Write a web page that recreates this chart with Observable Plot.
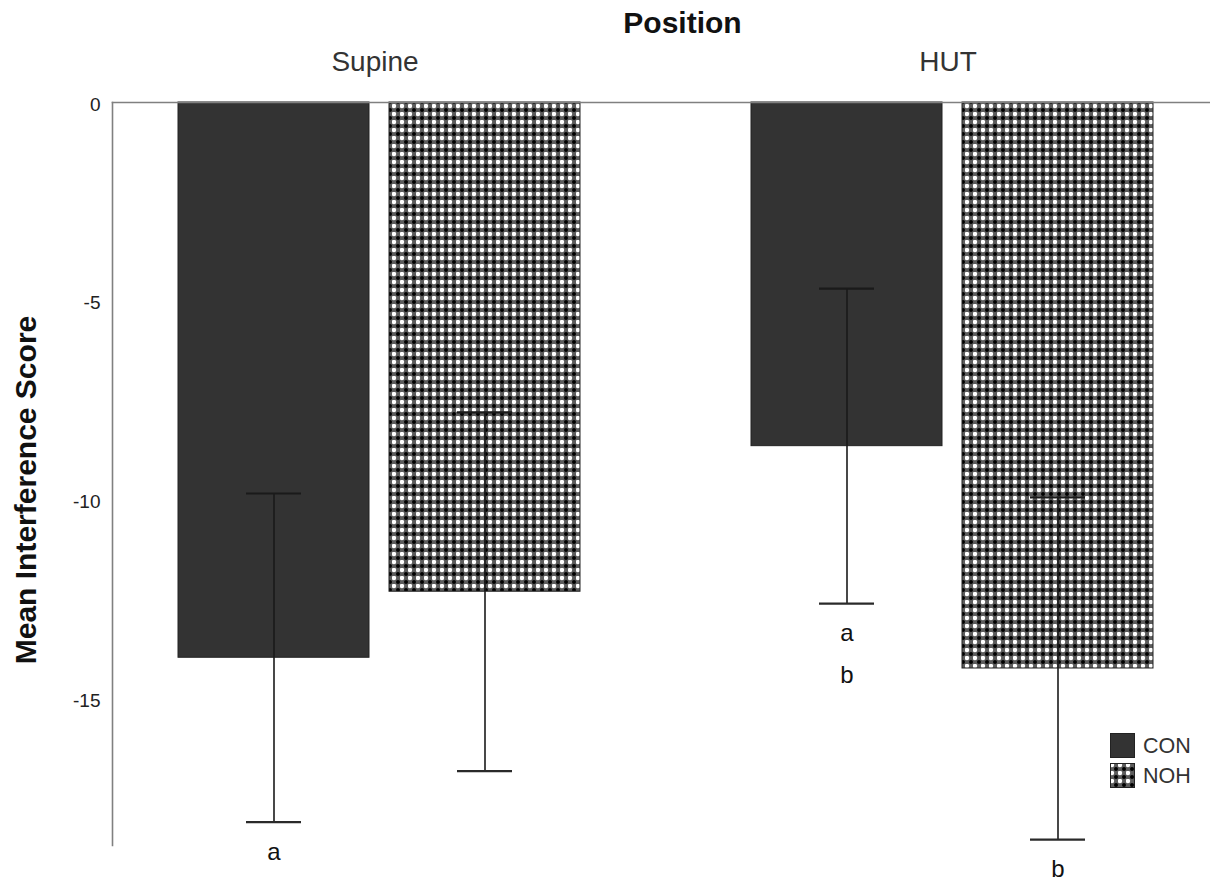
<!DOCTYPE html>
<html>
<head>
<meta charset="utf-8">
<script src="https://cdn.jsdelivr.net/npm/d3@7"></script>
<script src="https://cdn.jsdelivr.net/npm/@observablehq/plot@0.6"></script>
<style>
  html, body { margin: 0; padding: 0; background: #fff; }
  #wrap { position: relative; width: 1210px; height: 879px; font-family: "Liberation Sans", Arial, sans-serif; }
  #legend { position: absolute; left: 1110px; top: 731px; font-size: 21.5px; color: #333; }
  #legend .row { display: flex; align-items: center; height: 30px; }
  #legend svg { margin-right: 7px; }
</style>
</head>
<body>
<div id="wrap"></div>
<script>
// ---- data ----
const positions = ["Supine", "HUT"];
const groups = ["CON", "NOH"];
const meanCON = [-13.96, -8.64];
const meanNOH = [-12.30, -14.23];
const errCON = [4.13, 3.96];
const errNOH = [4.51, 4.30];
const yTicks = [0, -5, -10, -15];
const letterPositions = ["Supine", "HUT", "HUT"];
const letterGroups = ["CON", "CON", "NOH"];
const letterTexts = ["a", "a\nb", "b"];
const titleText = "Position";
const yLabel = "Mean Interference Score";

const data = positions.flatMap((p, i) => groups.map(g => ({
  position: p,
  group: g,
  mean: g === "CON" ? meanCON[i] : meanNOH[i],
  err: g === "CON" ? errCON[i] : errNOH[i]
})));
const letters = letterTexts.map((t, i) => {
  const d = data.find(r => r.position === letterPositions[i] && r.group === letterGroups[i]);
  return {position: letterPositions[i], group: letterGroups[i], text: t, lo: d.mean - d.err};
});

const svg = Plot.plot({
  width: 1210,
  height: 879,
  marginLeft: 112,
  marginRight: 0,
  marginTop: 102,
  marginBottom: 34,
  style: {fontFamily: "'Liberation Sans', Arial, sans-serif", color: "#222", background: "white", overflow: "visible"},
  fx: {domain: positions, paddingInner: 0.0838, paddingOuter: 0, label: null},
  x: {domain: groups, paddingInner: 0.0943, paddingOuter: 0.2854, align: 0.537, axis: null},
  y: {domain: [-18.68, 0]},
  color: {domain: groups, range: ["#333333", "url(#nohPattern)"]},
  marks: [
    Plot.barY(data, {fx: "position", x: "group", y: "mean", fill: "group", stroke: "#222", strokeWidth: 1}),
    Plot.ruleX(data, {fx: "position", x: "group", y1: d => d.mean - d.err, y2: d => d.mean + d.err, stroke: "#1a1a1a", strokeWidth: 1.6}),
    Plot.tickY(data, {fx: "position", x: "group", y: d => d.mean - d.err, insetLeft: 68, insetRight: 68, stroke: "#2a2a2a", strokeWidth: 2.2}),
    Plot.tickY(data, {fx: "position", x: "group", y: d => d.mean + d.err, insetLeft: 68, insetRight: 68, stroke: "#1a1a1a", strokeWidth: 2.2}),
    Plot.frame({anchor: "top", facet: "super", stroke: "#808080", strokeWidth: 1.6}),
    Plot.frame({anchor: "left", facet: "super", stroke: "#808080", strokeWidth: 1.6}),
    Plot.axisY({ticks: yTicks, tickSize: 0, tickPadding: 12, fontSize: 19, tickFormat: d => String(d), label: null, dy: 2}),
    Plot.axisFx({anchor: "top", tickSize: 0, tickPadding: 32, fontSize: 28, label: null, fill: "#333"}),
    Plot.text([titleText], {facet: "super", frameAnchor: "top", text: d => d, dx: 21, dy: -91, fontSize: 30, fontWeight: "bold", fill: "#111"}),
    Plot.text([yLabel], {facet: "super", frameAnchor: "left", textAnchor: "middle", text: d => d, rotate: -90, dx: -86, dy: 16, fontSize: 30, fontWeight: "bold", fill: "#111"}),
    Plot.text(letters, {fx: "position", x: "group", y: "lo", text: "text", lineAnchor: "top", dy: 8, fontSize: 24, lineHeight: 1.75, fill: "#111"})
  ]
});

const defs = d3.select(svg).insert("defs", ":first-child");
const pat = defs.append("pattern")
  .attr("id", "nohPattern")
  .attr("patternUnits", "userSpaceOnUse")
  .attr("width", 8).attr("height", 8);
pat.append("rect").attr("width", 8).attr("height", 8).attr("fill", "#5c5c5c");
pat.append("circle").attr("cx", 2).attr("cy", 2).attr("r", 2.2).attr("fill", "#ffffff");
pat.append("circle").attr("cx", 6).attr("cy", 6).attr("r", 2.0).attr("fill", "#000000");

const wrap = document.getElementById("wrap");
wrap.appendChild(svg);

// legend
const legend = document.createElement("div");
legend.id = "legend";
const fills = {CON: "#333333", NOH: "url(#nohPattern)"};
groups.forEach(g => {
  const row = document.createElement("div");
  row.className = "row";
  row.innerHTML = `<svg width="26" height="26"><rect x="0.5" y="0.5" width="24" height="24" fill="${fills[g]}" stroke="#222" stroke-width="1"/></svg><span>${g}</span>`;
  legend.appendChild(row);
});
wrap.appendChild(legend);
</script>
</body>
</html>
